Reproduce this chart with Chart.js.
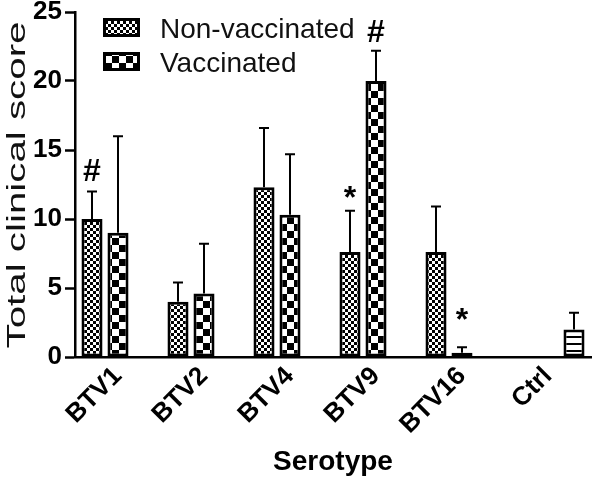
<!DOCTYPE html>
<html>
<head>
<meta charset="utf-8">
<script src="https://cdn.jsdelivr.net/npm/chart.js@4.4.0/dist/chart.umd.min.js"></script>
<style>
  html, body { margin: 0; padding: 0; background: #fff; }
</style>
</head>
<body>
<canvas id="myChart" width="598" height="481"></canvas>
<script>
const serotypes = ['BTV1', 'BTV2', 'BTV4', 'BTV9', 'BTV16', 'Ctrl'];
const nonVaccinated = [10.0, 4.0, 12.3, 7.6, 7.6, null];
const nonVaccinatedSd = [2.0, 1.4, 4.3, 3.0, 3.3, null];
const vaccinated = [9.0, 4.6, 10.3, 20.0, 0.3, null];
const vaccinatedSd = [7.0, 3.6, 4.4, 2.2, 0.4, null];
const control = [null, null, null, null, null, 2.0];
const controlSd = [null, null, null, null, null, 1.2];
// significance marks: dataset index, category, symbol, level (score) where it sits
const markSeries = [0, 1, 0, 1];
const markCategory = ['BTV1', 'BTV9', 'BTV9', 'BTV16'];
const markText = ['#', '#', '*', '*'];
const markLevel = [13.4, 23.5, 11.9, 3.0];

const yTitle = 'Total clinical score';
const xTitle = 'Serotype';
const FONT = '"Liberation Sans", Arial, Helvetica, sans-serif';

const canvas = document.getElementById('myChart');
const ctx = canvas.getContext('2d');

function makePattern(size, draw) {
  const c = document.createElement('canvas');
  c.width = size; c.height = size;
  const g = c.getContext('2d');
  g.fillStyle = '#fff';
  g.fillRect(0, 0, size, size);
  g.fillStyle = '#000';
  draw(g, size);
  return ctx.createPattern(c, 'repeat');
}
const fineChecker = makePattern(6, (g) => { g.fillRect(0, 0, 3, 3); g.fillRect(3, 3, 3, 3); });
const bigChecker = makePattern(14, (g) => { g.fillRect(0, 0, 7, 7); g.fillRect(7, 7, 7, 7); });
const stripes = makePattern(7, (g, s) => { g.fillRect(0, 0, s, 2); });

// upper error bars
const errorBars = {
  id: 'errorBars',
  afterDatasetsDraw(chart) {
    const c = chart.ctx;
    const y = chart.scales.y;
    c.save();
    c.strokeStyle = '#000';
    c.lineWidth = 2;
    chart.data.datasets.forEach((ds, i) => {
      const meta = chart.getDatasetMeta(i);
      meta.data.forEach((bar, j) => {
        const v = ds.data[j], e = ds.sd[j];
        if (v == null || e == null) return;
        const top = y.getPixelForValue(v + e);
        c.beginPath();
        c.moveTo(bar.x, bar.y);
        c.lineTo(bar.x, top);
        c.moveTo(bar.x - 5, top);
        c.lineTo(bar.x + 5, top);
        c.stroke();
      });
    });
    c.restore();
  }
};

const extras = {
  id: 'extras',
  afterDraw(chart) {
    const c = chart.ctx;
    const y = chart.scales.y;
    // significance marks
    c.save();
    c.fillStyle = '#000';
    c.textAlign = 'center';
    c.textBaseline = 'middle';
    markText.forEach((t, k) => {
      const meta = chart.getDatasetMeta(markSeries[k]);
      const bar = meta.data[serotypes.indexOf(markCategory[k])];
      c.font = 'bold 32px ' + FONT;
      c.fillText(t, bar.x, y.getPixelForValue(markLevel[k]) + (t === '*' ? 6 : 0));
    });
    c.restore();

    // legend in the plot
    c.save();
    chart.data.datasets.slice(0, 2).forEach((ds, i) => {
      const bx = 103, by = 18 + i * 34;
      c.fillStyle = ds.backgroundColor;
      c.fillRect(bx, by, 37, 19);
      c.strokeStyle = '#000';
      c.lineWidth = 3;
      c.strokeRect(bx + 1.5, by + 1.5, 34, 16);
      c.fillStyle = '#111';
      c.font = '28px ' + FONT;
      c.textAlign = 'left';
      c.textBaseline = 'middle';
      c.fillText(ds.label, 160, by + 12);
    });
    c.restore();

    // y title, stretched along its length as in the original figure
    c.save();
    c.translate(18, 185);
    c.rotate(-Math.PI / 2);
    c.scale(1.55, 1);
    c.font = '26px ' + FONT;
    c.fillStyle = '#111';
    c.textAlign = 'center';
    c.textBaseline = 'middle';
    c.fillText(yTitle, 0, 0);
    c.restore();
  }
};

const barStyle = { borderColor: '#000', borderWidth: 3, borderSkipped: false };

new Chart(ctx, {
  type: 'bar',
  data: {
    labels: serotypes,
    datasets: [
      Object.assign({ label: 'Non-vaccinated', data: nonVaccinated, sd: nonVaccinatedSd, backgroundColor: fineChecker }, barStyle),
      Object.assign({ label: 'Vaccinated', data: vaccinated, sd: vaccinatedSd, backgroundColor: bigChecker }, barStyle),
      Object.assign({ label: 'Ctrl', data: control, sd: controlSd, backgroundColor: stripes }, barStyle)
    ]
  },
  options: {
    responsive: false,
    animation: false,
    devicePixelRatio: 1,
    categoryPercentage: 0.907,
    barPercentage: 0.81,
    layout: { padding: { top: 12, right: 7, left: 0, bottom: 0 } },
    plugins: { legend: { display: false }, tooltip: { enabled: false } },
    scales: {
      x: {
        offset: true,
        grid: { display: false, drawTicks: false },
        border: { display: true, color: '#000', width: 2.5 },
        ticks: {
          color: '#000', autoSkip: false, minRotation: 45, maxRotation: 45, padding: 4,
          font: { family: FONT, weight: 'bold', size: 26 }
        },
        title: {
          display: true, text: xTitle, color: '#000',
          font: { family: FONT, weight: 'bold', size: 28 },
          padding: { top: 0, bottom: 2 }
        },
        afterFit(scale) {
          scale.height = 124;
          scale.paddingLeft = 0; scale.paddingRight = 0;
        }
      },
      y: {
        min: 0, max: 25,
        ticks: { stepSize: 5, color: '#000', padding: 3, font: { family: FONT, weight: 'bold', size: 26 } },
        grid: { drawOnChartArea: false, drawTicks: true, tickLength: 10, tickWidth: 2.5, tickColor: '#000' },
        border: { color: '#000', width: 2.5 },
        afterFit(scale) {
          scale.width = 75;
          scale.paddingTop = 0; scale.paddingBottom = 0;
        }
      }
    }
  },
  plugins: [errorBars, extras]
});
</script>
</body>
</html>
